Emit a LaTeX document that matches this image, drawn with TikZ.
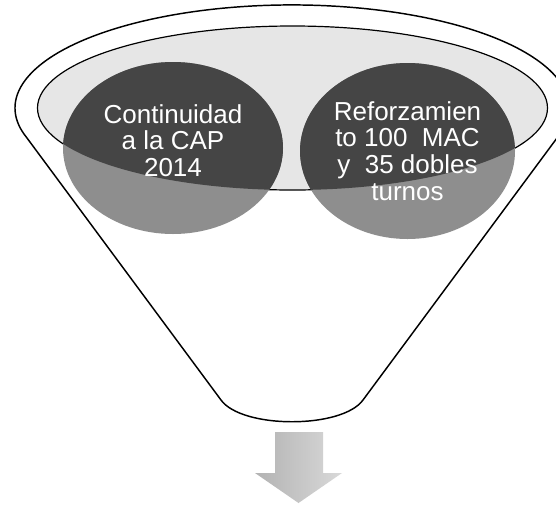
\documentclass[tikz,border=0pt]{standalone}
\usepackage{fontspec}
\setmainfont{Liberation Sans}
\definecolor{innerfill}{HTML}{E6E6E6}
\definecolor{darkdisc}{HTML}{454545}
\definecolor{lightdisc}{HTML}{8E8E8E}
\tikzset{
  funnelline/.style={draw=black,line width=1.1pt,line join=round},
  innerline/.style={draw=black,line width=0.9pt},
  disctext/.style={text=white,align=center,font=\fontsize{19.5}{20}\selectfont,inner sep=0pt},
}
\begin{document}
\begin{tikzpicture}[x=0.75pt,y=-0.75pt]
\useasboundingbox (0,0) rectangle (556,504);
\clip (0,0) rectangle (556,504);
% funnel body
\path[funnelline,fill=white]
  (25,135.3) -- (221,400) .. controls (242,429) and (342,429) .. (363,400)
  -- (559,135.3) arc[start angle=15.4, end angle=-195.4, x radius=277, y radius=103] -- cycle;
% inner ellipse
\path[innerline,fill=innerfill] (292.5,108) ellipse[x radius=255, y radius=82];
% discs: lighter part outside the inner ellipse
\fill[lightdisc] (173,148) ellipse[x radius=110, y radius=86];
\fill[lightdisc] (407.5,151) ellipse[x radius=107.5, y radius=88];
% darker part inside the inner ellipse
\begin{scope}
  \clip (292.5,108) ellipse[x radius=255, y radius=82];
  \fill[darkdisc] (173,148) ellipse[x radius=110, y radius=86];
  \fill[darkdisc] (407.5,151) ellipse[x radius=107.5, y radius=88];
\end{scope}
% texts
\node[disctext] (left) at (173,140.5) {Continuidad\\a la CAP\\2014};
\node[disctext] (right) at (407.5,151) {Reforzamien\\to 100\ \ MAC\\y\ \ 35 dobles\\turnos};
% arrow
\shade[left color=gray!60,right color=gray!30]
  (275,432) -- (323,432) -- (323,473) -- (342,473) -- (298.5,503)
  -- (255,473) -- (275,473) -- cycle;
\end{tikzpicture}
\end{document}
